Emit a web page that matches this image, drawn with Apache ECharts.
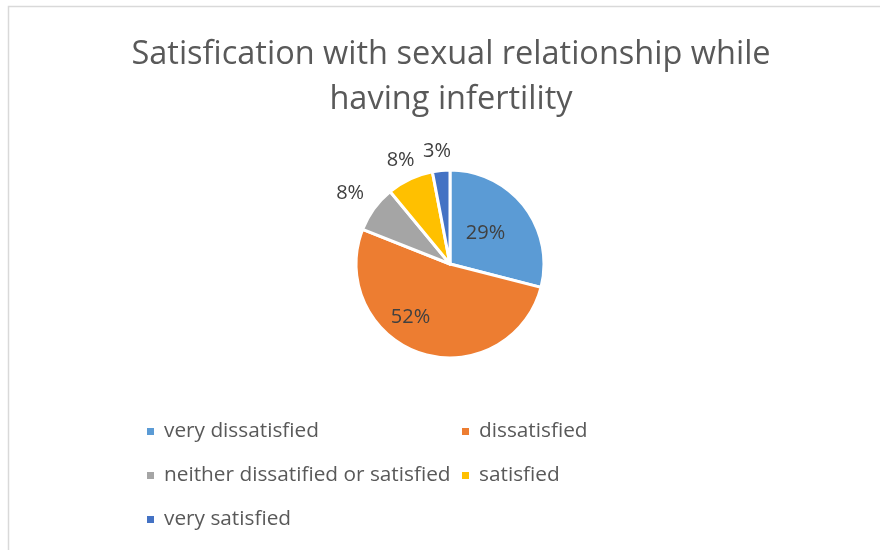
<!DOCTYPE html>
<html>
<head>
<meta charset="utf-8">
<script src="https://cdn.jsdelivr.net/npm/echarts@6/dist/echarts.min.js"></script>
<style>
  html, body { margin: 0; padding: 0; background: #ffffff; }
  #chart { width: 880px; height: 550px; }
</style>
</head>
<body>
<div id="chart"></div>
<script>
// Survey answers and their shares (percent)
const categories = [
  'very dissatisfied',
  'dissatisfied',
  'neither dissatified or satisfied',
  'satisfied',
  'very satisfied'
];
const shares = [29, 52, 8, 8, 3];
const colors = ['#5B9BD5', '#ED7D31', '#A5A5A5', '#FFC000', '#4472C4'];

// Legend columns, as laid out under the pie
const legendLeftColumn = [categories[0], categories[2], categories[4]];
const legendRightColumn = [categories[1], categories[3]];

const FONT = '"Open Sans", Lato, sans-serif';

// Per-slice label placement: the two big slices carry their label inside,
// the three thin ones carry it just outside the rim.
const labelPlacement = [
  { position: 'inside', offset: [-4, 0] },
  { position: 'inside', offset: [-24, 6] },
  { position: 'outside', offset: [13, -3] },
  { position: 'outside', offset: [19, 1] },
  { position: 'outside', offset: [17, 3] }
];

const pieData = categories.map((name, i) => ({
  name: name,
  value: shares[i],
  label: labelPlacement[i],
  itemStyle: { color: colors[i] }
}));

const legendCommon = {
  orient: 'vertical',
  icon: 'rect',
  itemWidth: 9,
  itemHeight: 9,
  itemGap: 23,
  selectedMode: false,
  textStyle: { fontFamily: FONT, fontSize: 20.8, color: '#595959', padding: [0, 0, 0, 4] }
};

const chart = echarts.init(document.getElementById('chart'), null, { renderer: 'canvas' });
chart.setOption({
  animation: false,
  backgroundColor: '#ffffff',
  color: colors,
  graphic: [{
    type: 'rect',
    shape: { x: 8.5, y: 6.5, width: 900, height: 600 },
    style: { fill: 'none', stroke: '#D9D9D9', lineWidth: 1.5 },
    silent: true
  }],
  title: {
    text: 'Satisfication with sexual relationship while\nhaving infertility',
    left: 446,
    textAlign: 'center',
    top: 27,
    textStyle: {
      fontFamily: FONT,
      fontSize: 32.5,
      fontWeight: 'normal',
      color: '#595959',
      lineHeight: 45
    }
  },
  legend: [
    Object.assign({ data: legendLeftColumn, left: 140, top: 416 }, legendCommon),
    Object.assign({ data: legendRightColumn, left: 455, top: 416 }, legendCommon)
  ],
  series: [{
    type: 'pie',
    center: [450, 264],
    radius: 94,
    startAngle: 90,
    clockwise: true,
    avoidLabelOverlap: false,
    itemStyle: { borderColor: '#ffffff', borderWidth: 3 },
    label: {
      formatter: '{d}%',
      fontFamily: FONT,
      fontSize: 20,
      color: '#404040'
    },
    labelLine: { show: false, length: 22, length2: 0 },
    emphasis: { disabled: true },
    data: pieData
  }]
});
</script>
</body>
</html>
